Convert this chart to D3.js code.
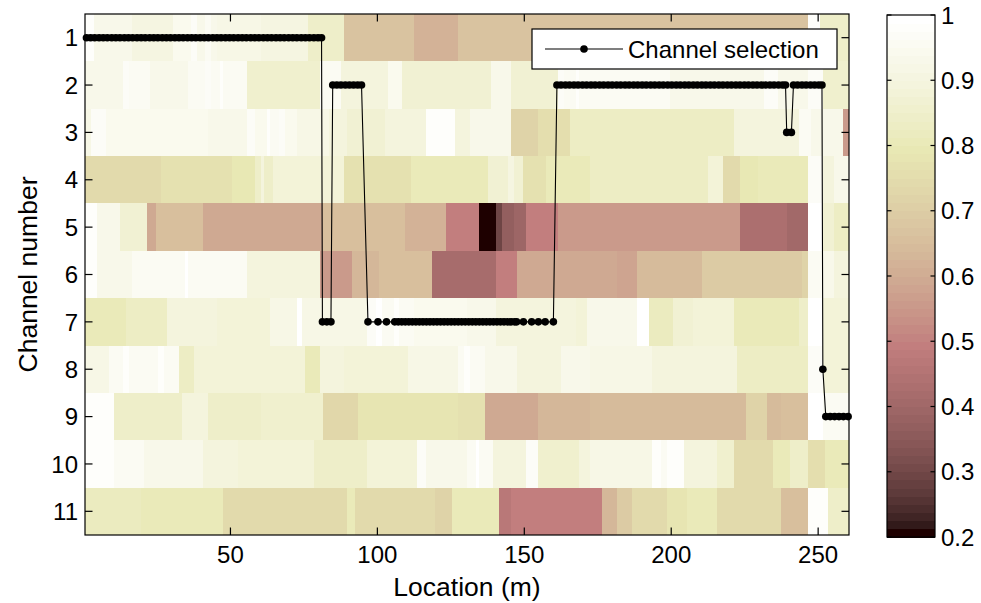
<!DOCTYPE html>
<html><head><meta charset="utf-8">
<script src="https://cdn.jsdelivr.net/npm/d3@7"></script>
<style>
body{margin:0;background:#fff}
text{font-family:"Liberation Sans",Arial,Helvetica,sans-serif;fill:#000}
</style>
</head><body>
<svg id="chart" width="981" height="603"></svg>
<script>
// ---------- DATA ----------
const channels = [1,2,3,4,5,6,7,8,9,10,11];
const xTicks = [50,100,150,200,250];
const cbTicks = [0.2,0.3,0.4,0.5,0.6,0.7,0.8,0.9,1];
const nLocations = 260;

// Heat map rows: [first location of run, value] ; each run lasts until the next one starts
const ch1Runs  = [[1,0.98],[4,0.93],[17,0.91],[31,0.94],[37,0.97],[39,0.93],[42,0.96],[44,0.93],[46,0.92],[61,0.91],[77,0.84],[89,0.67],[113,0.62],[128,0.67],[247,0.98],[251,0.84]];
const ch2Runs  = [[1,0.93],[14,0.97],[16,0.95],[23,0.93],[36,0.95],[42,0.97],[44,0.95],[47,0.98],[48,0.95],[56,0.86],[81,0.95],[88,0.9],[104,0.94],[109,0.87],[139,0.93],[146,0.87],[162,0.97],[164,0.95],[168,0.98],[169,0.95],[200,0.93],[232,0.97],[237,0.93],[247,0.97],[252,0.86]];
const ch3Runs  = [[1,0.92],[3,0.97],[8,0.94],[43,0.93],[56,0.97],[59,0.94],[63,0.98],[64,0.95],[67,0.97],[69,0.94],[73,0.92],[84,0.9],[90,0.87],[103,0.89],[110,0.9],[117,0.98],[127,0.9],[132,0.93],[146,0.72],[155,0.75],[166,0.83],[222,0.9],[244,0.95],[248,0.93],[259,0.55]];
const ch4Runs  = [[1,0.74],[27,0.77],[51,0.79],[59,0.85],[61,0.9],[62,0.85],[65,0.88],[89,0.77],[112,0.81],[138,0.87],[145,0.91],[147,0.87],[150,0.77],[158,0.81],[173,0.83],[213,0.88],[218,0.74],[224,0.79],[230,0.81],[247,0.97],[252,0.9],[256,0.93]];
const ch5Runs  = [[1,0.98],[5,0.93],[13,0.87],[22,0.6],[25,0.66],[41,0.6],[82,0.66],[110,0.62],[124,0.5],[135,0.2],[141,0.3],[143,0.37],[147,0.39],[151,0.5],[162,0.55],[170,0.56],[224,0.43],[240,0.41],[247,1.0],[252,0.87],[256,0.83]];
const ch6Runs  = [[1,0.98],[5,0.93],[17,0.95],[35,0.99],[36,0.95],[56,0.9],[81,0.56],[92,0.63],[101,0.66],[119,0.42],[141,0.5],[148,0.6],[182,0.58],[189,0.64],[211,0.7],[245,0.72],[247,0.95],[252,0.93],[256,0.9]];
const ch7Runs  = [[1,0.8],[15,0.83],[29,0.9],[46,0.88],[64,0.92],[73,0.99],[75,0.92],[97,0.97],[100,0.99],[102,0.96],[106,0.98],[108,0.96],[113,0.94],[131,0.93],[141,0.9],[168,0.88],[172,0.93],[189,0.99],[193,0.82],[201,0.87],[208,0.88],[222,0.81],[244,0.85],[247,1.0],[252,0.88]];
const ch8Runs  = [[1,0.92],[9,0.96],[14,0.98],[16,0.96],[26,0.98],[28,0.96],[33,0.83],[38,0.88],[76,0.8],[81,0.9],[89,0.88],[111,0.92],[128,0.96],[130,0.98],[132,0.95],[137,0.93],[148,0.89],[163,0.93],[173,0.92],[194,0.89],[207,0.9],[223,0.83],[247,0.97],[252,0.88]];
const ch9Runs  = [[1,0.98],[11,0.85],[34,0.9],[43,0.84],[61,0.86],[82,0.73],[94,0.78],[128,0.77],[137,0.6],[155,0.63],[173,0.64],[226,0.72],[233,0.64],[238,0.66],[247,1.0],[252,0.95]];
const ch10Runs = [[1,0.98],[11,0.95],[21,0.93],[41,0.89],[53,0.88],[79,0.85],[88,0.84],[97,0.88],[114,0.97],[117,0.93],[131,0.96],[134,0.99],[135,0.95],[140,0.9],[151,0.97],[155,0.86],[169,0.9],[173,0.92],[194,0.98],[197,0.95],[199,0.98],[205,0.89],[216,0.86],[222,0.74],[235,0.8],[241,0.84],[247,0.75],[253,0.8]];
const ch11Runs = [[1,0.82],[20,0.8],[48,0.74],[90,0.8],[93,0.74],[120,0.72],[126,0.8],[142,0.47],[146,0.5],[177,0.63],[182,0.7],[187,0.74],[199,0.78],[206,0.8],[216,0.74],[238,0.66],[247,0.98],[254,0.85]];

// Channel selection line: locations (m) and selected channel
const selLocation = [
 1,2.4,3.8,5.3,6.7,8.1,9.6,11,12.4,13.9,15.3,16.7,18.2,19.6,21,22.5,23.9,25.3,26.8,28.2,29.6,31.1,32.5,33.9,35.4,36.8,38.2,39.7,41.1,42.5,44,45.4,46.8,48.3,49.7,51.1,52.6,54,55.4,56.9,58.3,59.7,61.2,62.6,64,65.5,66.9,68.3,69.8,71.2,72.6,74.1,75.5,76.9,78.4,79.8,81.0,
 81.3,82.8,84.2,
 84.8,86.2,87.6,89.1,90.5,91.9,93.3,94.6,
 96.8,100.2,103.1,105.9,107.1,108.3,109.5,110.7,111.9,113.1,114.3,115.5,116.7,117.9,119.1,120.3,121.5,122.7,123.9,125.1,126.3,127.5,128.7,129.9,131.1,132.3,133.5,134.7,135.9,137.1,138.3,139.5,140.7,141.9,143.1,144.3,145.5,146.7,147.4,149.7,152.5,154.8,157.1,159.9,
 161.1,162.5,164.0,165.4,166.9,168.3,169.8,171.2,172.7,174.1,175.6,177.0,178.5,179.9,181.4,182.8,184.3,185.7,187.2,188.6,190.1,191.5,193.0,194.4,195.9,197.3,198.8,200.2,201.7,203.1,204.6,206.0,207.5,208.9,210.4,211.8,213.3,214.7,216.2,217.6,219.1,220.5,222.0,223.4,224.9,226.3,227.8,229.2,230.7,232.1,233.6,235.0,236.5,237.9,238.9,
 239.3,240.9,
 241.6,243.0,244.5,245.9,247.4,248.8,250.2,251.3,
 251.6,
 252.6,254.1,255.6,257.1,258.6,260.2
];
const selChannel = [
 1,1,1,1,1,1,1,1,1,1,1,1,1,1,1,1,1,1,1,1,1,1,1,1,1,1,1,1,1,1,1,1,1,1,1,1,1,1,1,1,1,1,1,1,1,1,1,1,1,1,1,1,1,1,1,1,1,
 7,7,7,
 2,2,2,2,2,2,2,2,
 7,7,7,7,7,7,7,7,7,7,7,7,7,7,7,7,7,7,7,7,7,7,7,7,7,7,7,7,7,7,7,7,7,7,7,7,7,7,7,7,7,7,7,7,
 2,2,2,2,2,2,2,2,2,2,2,2,2,2,2,2,2,2,2,2,2,2,2,2,2,2,2,2,2,2,2,2,2,2,2,2,2,2,2,2,2,2,2,2,2,2,2,2,2,2,2,2,2,2,2,
 3,3,
 2,2,2,2,2,2,2,2,
 8,
 9,9,9,9,9,9
];

const heatRuns = [ch1Runs,ch2Runs,ch3Runs,ch4Runs,ch5Runs,ch6Runs,ch7Runs,ch8Runs,ch9Runs,ch10Runs,ch11Runs];

// ---------- COLORMAP (MATLAB "pink", 64 levels) ----------
function pinkMap(m){
  const n = Math.floor(3/8*m), out=[];
  for(let i=0;i<m;i++){
    const g=i/(m-1);
    const hr = i<n ? (i+1)/n : 1;
    const hg = i<n ? 0 : (i<2*n ? (i-n+1)/n : 1);
    const hb = i<2*n ? 0 : (i-2*n+1)/(m-2*n);
    const f=v=>Math.round(255*Math.sqrt((2*g+v)/3));
    out.push(`rgb(${f(hr)},${f(hg)},${f(hb)})`);
  }
  return out;
}
const cmap = pinkMap(64);
const cmin=0.2, cmax=1;
const colorOf = v => cmap[Math.max(0,Math.min(63,Math.floor((v-cmin)/(cmax-cmin)*64)))];

// ---------- LAYOUT ----------
const svg = d3.select("#chart");
const L=85, R=849, T=14, B=535;
const x = d3.scaleLinear().domain([0.5, nLocations+0.5]).range([L,R]);
const y = d3.scaleLinear().domain([0.5, 11.5]).range([T,B]);

// heat map
const cells=[];
heatRuns.forEach((runs,ri)=>{
  runs.forEach((r,k)=>{
    const end = k<runs.length-1 ? runs[k+1][0] : nLocations+1;
    cells.push({ch:channels[ri], x0:r[0]-0.5, x1:end-0.5, v:r[1]});
  });
});
svg.append("g").selectAll("rect").data(cells).join("rect")
  .attr("x",d=>x(d.x0)).attr("width",d=>x(d.x1)-x(d.x0)+0.4)
  .attr("y",d=>y(d.ch-0.5)).attr("height",d=>y(d.ch+0.5)-y(d.ch-0.5)+0.4)
  .attr("fill",d=>colorOf(d.v)).attr("shape-rendering","crispEdges");

// axes box + ticks (inward, on all sides)
const ax = svg.append("g").attr("stroke","#000").attr("stroke-width",1.2).attr("fill","none");
ax.append("rect").attr("x",L).attr("y",T).attr("width",R-L).attr("height",B-T);
const tl=7.5;
xTicks.forEach(t=>{
  ax.append("line").attr("x1",x(t)).attr("x2",x(t)).attr("y1",B).attr("y2",B-tl);
  ax.append("line").attr("x1",x(t)).attr("x2",x(t)).attr("y1",T).attr("y2",T+tl);
});
channels.forEach(c=>{
  ax.append("line").attr("x1",L).attr("x2",L+tl).attr("y1",y(c)).attr("y2",y(c));
  ax.append("line").attr("x1",R).attr("x2",R-tl).attr("y1",y(c)).attr("y2",y(c));
});
svg.append("g").selectAll("text").data(xTicks).join("text")
  .attr("x",d=>x(d)).attr("y",563).attr("text-anchor","middle").attr("font-size",24).text(d=>d);
svg.append("g").selectAll("text").data(channels).join("text")
  .attr("x",78).attr("y",d=>y(d)).attr("dy","0.36em").attr("text-anchor","end").attr("font-size",24).text(d=>d);

svg.append("text").attr("x",(L+R)/2).attr("y",596).attr("text-anchor","middle").attr("font-size",26.5).text("Location (m)");
svg.append("text").attr("transform",`translate(37,${(T+B)/2}) rotate(-90)`).attr("text-anchor","middle").attr("font-size",26.5).text("Channel number");

// channel selection line
const pts = selLocation.map((l,i)=>({l, c:selChannel[i]}));
svg.append("path").datum(pts)
  .attr("d", d3.line().x(d=>x(d.l)).y(d=>y(d.c)))
  .attr("fill","none").attr("stroke","#000").attr("stroke-width",1.1);
svg.append("g").selectAll("circle").data(pts).join("circle")
  .attr("cx",d=>x(d.l)).attr("cy",d=>y(d.c)).attr("r",3.8).attr("fill","#000");

// legend
const lg = svg.append("g");
lg.append("rect").attr("x",532).attr("y",29).attr("width",305).attr("height",40)
  .attr("fill","#fff").attr("stroke","#000").attr("stroke-width",1.2);
lg.append("line").attr("x1",545).attr("x2",623).attr("y1",49).attr("y2",49).attr("stroke","#000").attr("stroke-width",1.1);
lg.append("circle").attr("cx",584).attr("cy",49).attr("r",3.8).attr("fill","#000");
lg.append("text").attr("x",628).attr("y",49).attr("dy","0.36em").attr("font-size",24).text("Channel selection");

// colorbar
const cbL=887, cbR=935, cbT=15, cbB=537;
const cy = d3.scaleLinear().domain([cmin,cmax]).range([cbB,cbT]);
const bands = d3.range(64).map(i=>({lo:cmin+i*(cmax-cmin)/64, hi:cmin+(i+1)*(cmax-cmin)/64, c:cmap[i]}));
svg.append("g").selectAll("rect").data(bands).join("rect")
  .attr("x",cbL).attr("width",cbR-cbL).attr("y",d=>cy(d.hi)).attr("height",d=>cy(d.lo)-cy(d.hi)+0.5)
  .attr("fill",d=>d.c).attr("shape-rendering","crispEdges");
const cb = svg.append("g").attr("stroke","#000").attr("stroke-width",1.2).attr("fill","none");
cb.append("rect").attr("x",cbL).attr("y",cbT).attr("width",cbR-cbL).attr("height",cbB-cbT);
cbTicks.forEach(t=>{
  cb.append("line").attr("x1",cbL).attr("x2",cbL+4.5).attr("y1",cy(t)).attr("y2",cy(t));
  cb.append("line").attr("x1",cbR).attr("x2",cbR-4.5).attr("y1",cy(t)).attr("y2",cy(t));
});
svg.append("g").selectAll("text").data(cbTicks).join("text")
  .attr("x",941).attr("y",d=>cy(d)).attr("dy","0.36em").attr("font-size",24).text(d=>d);
</script>
</body></html>
